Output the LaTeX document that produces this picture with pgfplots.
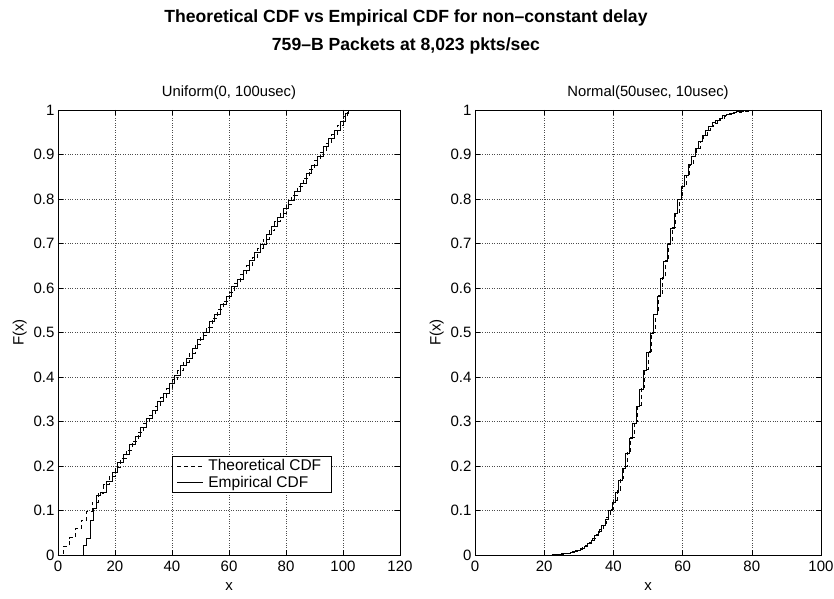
\documentclass[border=0pt]{standalone}
\usepackage{fontspec}
\setmainfont{Liberation Sans}
\usepackage{pgfplots}
\pgfplotsset{compat=1.18}
\pgfplotsset{cdfax/.style={
  scale only axis, height=445pt, anchor=south west,
  ymin=0, ymax=1,
  ytick={0,0.1,0.2,0.3,0.4,0.5,0.6,0.7,0.8,0.9,1},
  yticklabel style={/pgf/number format/fixed},
  xticklabel style={yshift=-2pt},
  grid=major, major grid style={dotted, black!70, line width=0.6pt},
  tick align=inside, major tick length=5pt, tick style={black, line width=0.6pt},
  axis line style={black, line width=0.7pt},
  /pgf/number format/assume math mode=true,
  tick label style={font=\fontsize{15}{17}\selectfont},
  label style={font=\fontsize{15}{17}\selectfont},
  title style={font=\fontsize{14.8}{17}\selectfont, yshift=1pt},
  xlabel={x}, ylabel={F(x)},
  xlabel style={yshift=-5pt},
  ylabel style={yshift=0pt},
  legend cell align=left,
}}
\begin{document}
\begin{tikzpicture}[x=1pt,y=1pt]
\path[use as bounding box] (0,0) rectangle (834,598);
\node[font=\fontsize{17.6}{20}\selectfont\bfseries] at (406,580) {Theoretical CDF vs Empirical CDF for non–constant delay};
\node[font=\fontsize{17.6}{20}\selectfont\bfseries] at (406,552) {759–B Packets at 8,023 pkts/sec};

\begin{axis}[cdfax, at={(58pt,43pt)}, width=342pt,
  xmin=0, xmax=120, xtick={0,20,40,60,80,100,120},
  title={Uniform(0, 100usec)},
  legend style={at={(0.332,0.222)}, anchor=north west, draw=black, line width=0.7pt, font=\fontsize{15.5}{17}\selectfont, row sep=0pt, inner xsep=5pt, inner ysep=1pt, nodes={inner xsep=5pt}},
  legend image post style={xscale=1.5}]
\addplot[black, const plot, line width=0.6pt, dash pattern=on 4pt off 3pt] coordinates {
(0,0) (2,0.020) (4,0.039) (6,0.059) (8,0.079) (10,0.099) (12,0.118) (14,0.138) (16,0.158) (18,0.177)
(20,0.197) (22,0.217) (24,0.236) (26,0.256) (28,0.276) (30,0.296) (32,0.315) (34,0.335) (36,0.355) (38,0.374)
(40,0.394) (42,0.414) (44,0.433) (46,0.453) (48,0.473) (50,0.493) (52,0.512) (54,0.532) (56,0.552) (58,0.571)
(60,0.591) (62,0.611) (64,0.631) (66,0.650) (68,0.670) (70,0.690) (72,0.709) (74,0.729) (76,0.749) (78,0.768)
(80,0.788) (82,0.808) (84,0.828) (86,0.847) (88,0.867) (90,0.887) (92,0.906) (94,0.926) (96,0.946) (98,0.966)
(100,0.985) (101.5,1.0)};
\addlegendentry{Theoretical CDF}
\addplot[black, const plot, line width=0.9pt] coordinates {
(0,0) (9.1,0.022) (10,0.037) (11.4,0.078) (12.4,0.104) (13.5,0.133) (15,0.140)
(17,0.165) (19,0.186) (21,0.208) (23,0.225) (25,0.248) (27,0.266) (29,0.287) (31,0.307) (33,0.324)
(35,0.346) (37,0.364) (39,0.386) (41,0.404) (43,0.425) (45,0.441) (47,0.464) (49,0.484) (51,0.501)
(53,0.524) (55,0.541) (57,0.563) (59,0.580) (61,0.603) (63,0.620) (65,0.640) (67,0.661) (69,0.680)
(71,0.698) (73,0.720) (75,0.738) (77,0.759) (79,0.778) (81,0.797) (83,0.818) (85,0.836) (87,0.858)
(89,0.876) (91,0.895) (93,0.917) (95,0.935) (97,0.954) (99,0.975) (101,0.993) (102,1.0)};
\addlegendentry{Empirical CDF}
\end{axis}

\begin{axis}[cdfax, at={(475pt,43pt)}, width=346pt,
  xmin=0, xmax=100, xtick={0,20,40,60,80,100},
  title={Normal(50usec, 10usec)}]
\addplot[black, const plot, line width=0.6pt, dash pattern=on 4pt off 3pt] coordinates {
(0,0) (22,0.0011) (23,0.0016) (24,0.0022) (25,0.0031) (26,0.0042) (27,0.0058) (28,0.0077) (29,0.0103)
(30,0.0135) (31,0.0176) (32,0.0228) (33,0.0291) (34,0.0368) (35,0.0461) (36,0.0572) (37,0.0703)
(38,0.0856) (39,0.1033) (40,0.1235) (41,0.1462) (42,0.1718) (43,0.1999) (44,0.2306) (45,0.2638)
(46,0.2994) (47,0.3369) (48,0.3760) (49,0.4166) (50,0.4581) (51,0.5) (52,0.5419) (53,0.5834)
(54,0.6240) (55,0.6631) (56,0.7006) (57,0.7362) (58,0.7694) (59,0.8001) (60,0.8282) (61,0.8538)
(62,0.8765) (63,0.8967) (64,0.9144) (65,0.9297) (66,0.9428) (67,0.9539) (68,0.9632) (69,0.9709)
(70,0.9772) (71,0.9824) (72,0.9865) (73,0.9897) (74,0.9923) (75,0.9942) (76,0.9958) (77,0.9969)
(78,0.9978) (79,0.9984) (80,0.9989) (81,0.9993) (82,0.9995)};
\addplot[black, const plot, line width=0.9pt] coordinates {
(0,0) (23.6,0.001) (24.6,0.002) (25.6,0.003) (26.6,0.004) (27.6,0.006) (28.6,0.008) (29.6,0.011)
(30.6,0.015) (31.6,0.019) (32.6,0.026) (33.6,0.032) (34.6,0.043) (35.6,0.052) (36.6,0.067)
(37.6,0.080) (38.6,0.100) (39.6,0.118) (40.6,0.140) (41.6,0.168) (42.6,0.195) (43.6,0.228)
(44.6,0.262) (45.6,0.295) (46.6,0.333) (47.6,0.372) (48.6,0.414) (49.6,0.455) (50.6,0.497)
(51.6,0.540) (52.6,0.580) (53.6,0.622) (54.6,0.660) (55.6,0.698) (56.6,0.733) (57.6,0.768)
(58.6,0.800) (59.6,0.828) (60.6,0.852) (61.6,0.877) (62.6,0.896) (63.6,0.914) (64.6,0.930)
(65.6,0.943) (66.6,0.954) (67.6,0.963) (68.6,0.971) (69.6,0.977) (70.6,0.982) (71.6,0.987)
(72.6,0.990) (73.6,0.992) (74.6,0.994) (75.6,0.996) (76.6,0.997) (77.6,0.998) (78.6,0.999)
(79.6,0.9995) (80.6,1.0) (82,1.0)};
\end{axis}
\end{tikzpicture}
\end{document}
